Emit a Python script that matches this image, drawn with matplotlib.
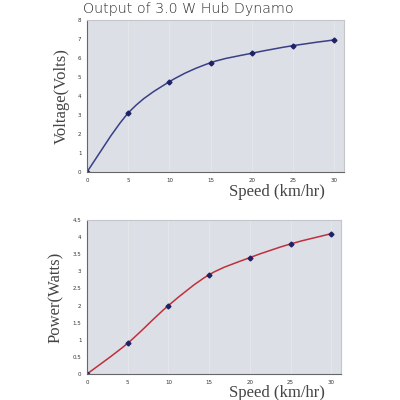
import numpy as np
import matplotlib
matplotlib.use("Agg")
import matplotlib.pyplot as plt
from matplotlib.path import Path
from matplotlib.patches import PathPatch

# data
speed = [0, 5, 10, 15, 20, 25, 30]
voltage = [0, 3.1, 4.75, 5.75, 6.25, 6.65, 6.95]
power = [0, 0.9, 2.0, 2.9, 3.4, 3.8, 4.1]


def smooth_path(x, y):
    # Catmull-Rom style bezier through the points (rendering only)
    x = np.asarray(x, float)
    y = np.asarray(y, float)
    verts = [(x[0], y[0])]
    codes = [Path.MOVETO]
    n = len(x)
    for i in range(n - 1):
        p0 = (x[max(i - 1, 0)], y[max(i - 1, 0)])
        p1 = (x[i], y[i])
        p2 = (x[i + 1], y[i + 1])
        p3 = (x[min(i + 2, n - 1)], y[min(i + 2, n - 1)])
        c1 = (p1[0] + (p2[0] - p0[0]) / 6, p1[1] + (p2[1] - p0[1]) / 6)
        c2 = (p2[0] - (p3[0] - p1[0]) / 6, p2[1] - (p3[1] - p1[1]) / 6)
        verts += [c1, c2, p2]
        codes += [Path.CURVE4] * 3
    return Path(verts, codes)


def style_axes(ax, ymax, ystep):
    ax.set_facecolor("#dcdfe5")
    ax.set_xlim(0, 31.2)
    ax.set_ylim(0, ymax)
    ax.set_xticks(speed)
    ax.set_yticks(np.arange(0, ymax + 0.01, ystep))
    ax.yaxis.set_major_formatter(matplotlib.ticker.FormatStrFormatter("%g"))
    ax.tick_params(labelsize=4, colors="#333333", length=0, pad=4)
    ax.grid(axis="x", color="#e6e8ec", linewidth=0.6)
    ax.set_axisbelow(True)
    for s in ["left", "bottom"]:
        ax.spines[s].set_color("#666666")
        ax.spines[s].set_linewidth(0.8)
    for s in ["top", "right"]:
        ax.spines[s].set_color("#c4c6ca")
        ax.spines[s].set_linewidth(0.8)


fig = plt.figure(figsize=(4, 4), dpi=100)

# top chart: voltage
ax1 = fig.add_axes([0.2175, 0.57, 0.6425, 0.38])
style_axes(ax1, 8, 1)
ax1.add_patch(PathPatch(smooth_path(speed, voltage), fill=False,
                        edgecolor="#3a3f86", linewidth=1.1))
ax1.plot(speed, voltage, linestyle="none", marker="D", markersize=2.5,
         color="#1e2266")
ax1.set_ylabel("Voltage(Volts)", family="Liberation Serif", fontsize=12,
               color="#444444", labelpad=6)

# bottom chart: power
ax2 = fig.add_axes([0.2175, 0.065, 0.635, 0.385])
style_axes(ax2, 4.5, 0.5)
ax2.add_patch(PathPatch(smooth_path(speed, power), fill=False,
                        edgecolor="#c0303c", linewidth=1.1))
ax2.plot(speed, power, linestyle="none", marker="D", markersize=2.5,
         color="#1e2266")
ax2.set_ylabel("Power(Watts)", family="Liberation Serif", fontsize=12,
               color="#444444", labelpad=6)

fig.text(0.47, 0.978, "Output of 3.0 W Hub Dynamo", ha="center", va="center",
         family="DejaVu Sans", weight="light", fontsize=10.3, color="#2a2a2a")
fig.text(0.693, 0.52, "Speed (km/hr)", ha="center", va="center",
         family="Liberation Serif", fontsize=12, color="#444444")
fig.text(0.693, 0.018, "Speed (km/hr)", ha="center", va="center",
         family="Liberation Serif", fontsize=12, color="#444444")

fig.savefig("out.png", dpi=100, facecolor="white")
